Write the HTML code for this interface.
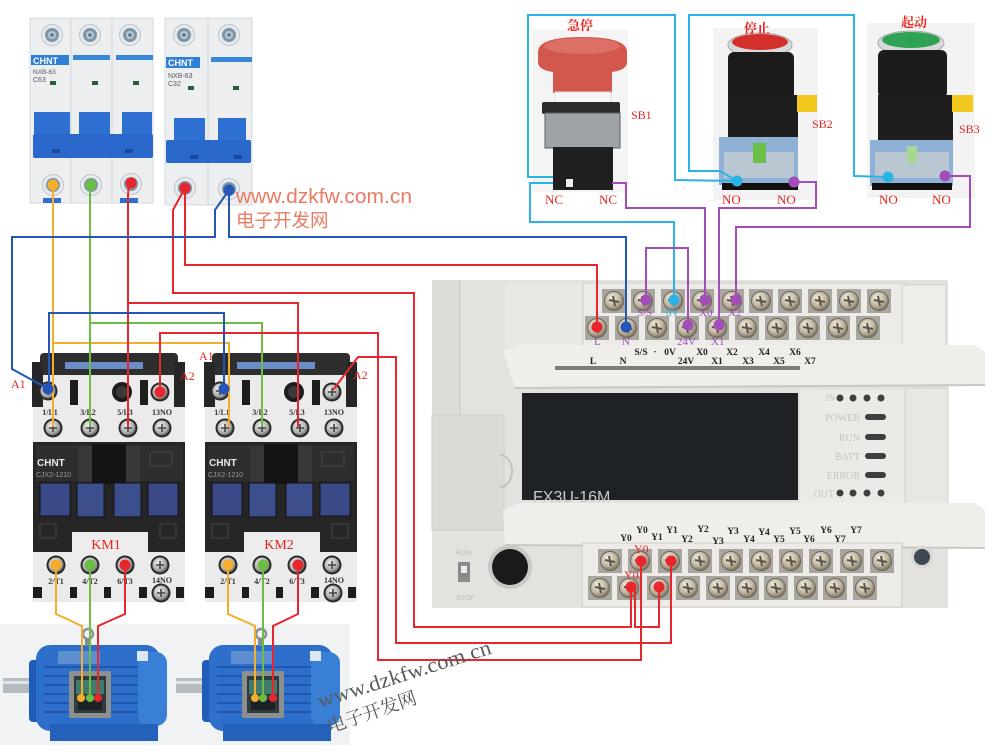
<!DOCTYPE html>
<html><head><meta charset="utf-8"><style>
html,body{margin:0;padding:0;background:#fff;}
svg{display:block}
text{font-family:"Liberation Serif","Noto Serif CJK SC",serif;}
.sans{font-family:"Liberation Sans","Noto Sans CJK SC",sans-serif;}
</style></head><body>
<svg width="995" height="756" viewBox="0 0 995 756" xmlns="http://www.w3.org/2000/svg">
<defs>
<radialGradient id="gs" cx="0.4" cy="0.35" r="0.7"><stop offset="0" stop-color="#f6f1e6"/><stop offset="0.6" stop-color="#bdb29c"/><stop offset="1" stop-color="#6e6656"/></radialGradient>
<radialGradient id="gc" cx="0.4" cy="0.35" r="0.7"><stop offset="0" stop-color="#f2f2f2"/><stop offset="0.7" stop-color="#a9a9a9"/><stop offset="1" stop-color="#555"/></radialGradient>
<g id="ps"><rect x="-12" y="-12" width="24" height="24" fill="#a8a69f"/><circle r="9.5" fill="url(#gs)" stroke="#6b6558"/><path d="M-5 -1 L5 1 M-1 -5 L1 5" stroke="#5a5346" stroke-width="2"/></g>
<g id="bs"><circle r="10.5" fill="#e6eaed" stroke="#bcc5cb"/><circle r="7" fill="#7d95a5"/><circle r="4" fill="#b7c8d3"/><circle r="1.8" fill="#5d7687"/></g>
<g id="cs"><circle r="9.5" fill="#2a2a2a"/><circle r="7.5" fill="url(#gc)"/><path d="M-4 0 L4 0 M0 -4 L0 4" stroke="#444" stroke-width="1.6"/></g>
<g id="km">
<rect x="33" y="370" width="152" height="232" fill="#ebebeb"/>
<rect x="40" y="353" width="138" height="22" rx="4" fill="#2e2e2e"/>
<rect x="65" y="362" width="78" height="7" fill="#6a8fc8"/>
<rect x="32" y="362" width="11" height="45" fill="#262626"/>
<rect x="174" y="362" width="11" height="45" fill="#262626"/>
<rect x="70" y="380" width="8" height="25" fill="#1d1d1d"/>
<rect x="140" y="380" width="8" height="25" fill="#1d1d1d"/>
<circle cx="122" cy="392" r="10" fill="#1c1c1c"/><circle cx="122" cy="392" r="6" fill="#3a3a3a"/>
<use href="#cs" x="48" y="391"/><use href="#cs" x="160" y="392"/>
<g class="sans" font-size="8" font-weight="bold" fill="#333" text-anchor="middle">
<text x="50" y="415">1/L1</text><text x="88" y="415">3/L2</text><text x="125" y="415">5/L3</text><text x="162" y="415">13NO</text>
</g>
<use href="#cs" x="53" y="428"/><use href="#cs" x="90" y="428"/><use href="#cs" x="128" y="428"/><use href="#cs" x="162" y="428"/>
<rect x="33" y="442" width="152" height="110" fill="#262626"/>
<rect x="36" y="445" width="146" height="36" fill="#2e2e2e"/>
<rect x="78" y="446" width="14" height="36" fill="#383838"/>
<rect x="126" y="446" width="14" height="36" fill="#383838"/>
<rect x="92" y="444" width="34" height="40" fill="#141414"/>
<rect x="150" y="452" width="22" height="14" fill="none" stroke="#444"/>
<text class="sans" x="37" y="466" font-size="10" font-weight="bold" fill="#e8e8e8">CHNT</text>
<text class="sans" x="36" y="477" font-size="7" fill="#9a9a9a">CJX2-1210</text>
<rect x="40" y="483" width="30" height="33" fill="#3a4a88" stroke="#111"/>
<rect x="77" y="483" width="27" height="34" fill="#3d4e8c" stroke="#111"/>
<rect x="114" y="483" width="27" height="34" fill="#3d4e8c" stroke="#111"/>
<rect x="148" y="483" width="30" height="33" fill="#3a4a88" stroke="#111"/>
<rect x="40" y="524" width="16" height="14" fill="none" stroke="#444"/>
<rect x="160" y="524" width="16" height="14" fill="none" stroke="#444"/>
<rect x="72" y="532" width="76" height="28" fill="#ededed"/>
<use href="#cs" x="56" y="565"/><use href="#cs" x="90" y="565"/><use href="#cs" x="125" y="565"/><use href="#cs" x="160" y="565"/>
<g class="sans" font-size="8" font-weight="bold" fill="#333" text-anchor="middle">
<text x="56" y="584">2/T1</text><text x="90" y="584">4/T2</text><text x="125" y="584">6/T3</text><text x="162" y="583">14NO</text>
</g>
<rect x="33" y="587" width="9" height="11" fill="#1d1d1d"/><rect x="70" y="587" width="7" height="11" fill="#1d1d1d"/>
<rect x="104" y="587" width="7" height="11" fill="#1d1d1d"/><rect x="139" y="587" width="8" height="11" fill="#1d1d1d"/>
<rect x="176" y="587" width="8" height="11" fill="#1d1d1d"/>
<use href="#cs" x="161" y="593"/>
</g>
<g id="mot">
<rect x="3" y="678" width="32" height="15" fill="#b6bbc0"/>
<rect x="3" y="681" width="32" height="3" fill="#dfe2e5"/>
<rect x="29" y="660" width="14" height="62" rx="4" fill="#1f5db8"/>
<rect x="36" y="645" width="124" height="86" rx="14" fill="#2d6fca"/>
<g stroke="#1e57ab" stroke-width="2"><line x1="44" y1="667" x2="150" y2="667"/><line x1="44" y1="676" x2="150" y2="676"/><line x1="44" y1="685" x2="150" y2="685"/><line x1="44" y1="694" x2="150" y2="694"/><line x1="44" y1="703" x2="150" y2="703"/><line x1="44" y1="712" x2="150" y2="712"/></g>
<rect x="138" y="652" width="29" height="74" rx="11" fill="#3a7fd6"/>
<rect x="50" y="724" width="108" height="17" fill="#2461ba"/>
<rect x="58" y="651" width="42" height="13" fill="#5d8ed0"/>
<rect x="137" y="651" width="11" height="10" fill="#dce6f0"/>
<circle cx="88" cy="634" r="5" fill="none" stroke="#8a9096" stroke-width="2.5"/>
<rect x="85" y="638" width="6" height="8" fill="#7e8a96"/>
<rect x="69" y="671" width="42" height="47" rx="2" fill="#8d8f8f"/>
<rect x="74" y="676" width="32" height="37" fill="#2f3b3d"/>
<rect x="76" y="680" width="28" height="14" fill="#3f7c6e"/>
<rect x="78" y="700" width="24" height="10" fill="#1b2223"/>
</g>
</defs>

<!-- ===== Breakers ===== -->
<rect x="30" y="18" width="123" height="185" fill="#eceef0" stroke="#d6dadd"/>
<line x1="71" y1="18" x2="71" y2="203" stroke="#d2d6d9"/><line x1="112" y1="18" x2="112" y2="203" stroke="#d2d6d9"/>
<use href="#bs" x="52" y="35"/><use href="#bs" x="90" y="35"/><use href="#bs" x="130" y="35"/>
<rect x="31" y="55" width="38" height="10" fill="#2f7fd6"/>
<text class="sans" x="33" y="64" font-size="9" font-weight="bold" fill="#fff">CHNT</text>
<rect x="73" y="55" width="37" height="5" fill="#3a86d8"/><rect x="116" y="55" width="37" height="5" fill="#3a86d8"/>
<text class="sans" x="33" y="74" font-size="6.5" fill="#555">NXB-63</text><text class="sans" x="33" y="82" font-size="7" fill="#555">C63</text>
<rect x="50" y="81" width="6" height="4" fill="#2b5c3e"/><rect x="92" y="81" width="6" height="4" fill="#2b5c3e"/><rect x="133" y="81" width="6" height="4" fill="#2b5c3e"/>
<rect x="34" y="112" width="36" height="24" fill="#2e6fd2"/><rect x="79" y="112" width="31" height="24" fill="#2e6fd2"/><rect x="122" y="112" width="30" height="24" fill="#2e6fd2"/>
<rect x="33" y="134" width="120" height="24" rx="2" fill="#2a68cc"/>
<rect x="52" y="149" width="8" height="4" fill="#1b4a99"/><rect x="125" y="149" width="8" height="4" fill="#1b4a99"/>
<rect x="43" y="198" width="18" height="5" fill="#2f6fd0"/><rect x="120" y="198" width="18" height="5" fill="#2f6fd0"/>
<use href="#bs" x="53" y="185"/><use href="#bs" x="91" y="185"/><use href="#bs" x="131" y="184"/>

<rect x="165" y="18" width="87" height="187" fill="#eceef0" stroke="#d6dadd"/>
<line x1="208" y1="18" x2="208" y2="205" stroke="#d2d6d9"/>
<use href="#bs" x="184" y="35"/><use href="#bs" x="229" y="35"/>
<rect x="166" y="57" width="34" height="11" fill="#2f7fd6"/>
<text class="sans" x="168" y="66" font-size="9" font-weight="bold" fill="#fff">CHNT</text>
<rect x="211" y="57" width="41" height="5" fill="#3a86d8"/>
<text class="sans" x="168" y="78" font-size="7" fill="#555">NXB-63</text><text class="sans" x="168" y="86" font-size="7" fill="#555">C32</text>
<rect x="188" y="86" width="6" height="4" fill="#2b5c3e"/><rect x="233" y="86" width="6" height="4" fill="#2b5c3e"/>
<rect x="174" y="118" width="31" height="24" fill="#2e6fd2"/><rect x="218" y="118" width="28" height="24" fill="#2e6fd2"/>
<rect x="166" y="140" width="85" height="23" rx="2" fill="#2a68cc"/>
<rect x="190" y="155" width="8" height="4" fill="#1b4a99"/><rect x="234" y="155" width="8" height="4" fill="#1b4a99"/>
<use href="#bs" x="185" y="188"/><use href="#bs" x="229" y="189"/>

<!-- watermark 1 -->
<text class="sans" x="236" y="203" font-size="20" fill="#ec7a63" textLength="176" lengthAdjust="spacingAndGlyphs">www.dzkfw.com.cn</text>
<text class="sans" x="236" y="227" font-size="18.5" fill="#ec7a63">电子开发网</text>

<!-- ===== Buttons ===== -->
<rect x="532" y="30" width="96" height="162" fill="#f4f4f4"/>
<path d="M538 52 Q538 37 582 37 Q627 37 627 52 L627 62 Q627 70 612 72 L612 93 L553 93 L553 72 Q538 70 538 62 Z" fill="#d2574d"/>
<ellipse cx="582" cy="46" rx="38" ry="8" fill="#df7a70" opacity="0.7"/>
<rect x="555" y="92" width="56" height="14" fill="#f6f6f6" stroke="#dcdcdc"/>
<rect x="542" y="102" width="78" height="12" rx="2" fill="#2a2a2a"/>
<rect x="545" y="113" width="75" height="35" fill="#9ea3a7" stroke="#5a5f63"/>
<rect x="553" y="147" width="60" height="43" fill="#1f1f1f"/>
<rect x="566" y="179" width="7" height="8" fill="#eee"/>

<rect x="713" y="28" width="105" height="172" fill="#f3f3f3"/>
<ellipse cx="760" cy="45" rx="32" ry="12" fill="#d9d9d9" stroke="#aaa"/>
<ellipse cx="760" cy="42" rx="28" ry="8" fill="#d3302c"/>
<rect x="728" y="52" width="66" height="48" rx="6" fill="#1b1b1b"/>
<rect x="728" y="95" width="70" height="42" fill="#1e1e1e"/>
<rect x="797" y="95" width="20" height="17" fill="#f2c81e"/>
<rect x="719" y="137" width="79" height="48" fill="#8fb1d6"/>
<rect x="724" y="152" width="70" height="26" fill="#b9c7d2"/>
<rect x="722" y="183" width="76" height="7" fill="#111"/>
<rect x="753" y="143" width="13" height="20" fill="#6cc04a"/>

<rect x="867" y="23" width="108" height="175" fill="#f3f3f3"/>
<ellipse cx="911" cy="43" rx="33" ry="12" fill="#d9d9d9" stroke="#aaa"/>
<ellipse cx="911" cy="40" rx="29" ry="8" fill="#2fa354"/>
<rect x="878" y="50" width="69" height="48" rx="6" fill="#1b1b1b"/>
<rect x="878" y="95" width="75" height="45" fill="#1e1e1e"/>
<rect x="952" y="95" width="21" height="17" fill="#f2c81e"/>
<rect x="870" y="140" width="83" height="46" fill="#8fb1d6"/>
<rect x="875" y="152" width="74" height="26" fill="#b9c7d2"/>
<rect x="872" y="183" width="80" height="7" fill="#111"/>
<rect x="907" y="146" width="10" height="17" fill="#a8d890"/>

<g fill="#e8241f" font-weight="bold" font-size="13" text-anchor="middle">
<text x="580" y="30">急停</text><text x="757" y="33">停止</text><text x="914" y="27">起动</text>
</g>
<g fill="#e8241f" font-size="13">
<text x="545" y="204">NC</text><text x="599" y="204">NC</text>
<text x="722" y="204">NO</text><text x="777" y="204">NO</text>
<text x="879" y="204">NO</text><text x="932" y="204">NO</text>
<text x="631" y="119" font-size="12">SB1</text><text x="812" y="128" font-size="12">SB2</text><text x="959" y="133" font-size="12">SB3</text>
</g>

<!-- ===== PLC ===== -->
<rect x="432" y="280" width="516" height="328" fill="#e3e2de"/>
<rect x="432" y="280" width="28" height="140" fill="#dcdbd6"/>
<line x1="460" y1="280" x2="460" y2="420" stroke="#cac8c3"/>
<rect x="505" y="283" width="80" height="64" fill="#e9e8e4"/>
<rect x="583" y="283" width="322" height="67" fill="#ecebe8" stroke="#cfcdc8"/>
<rect x="902" y="285" width="44" height="64" fill="#eeede9" stroke="#d2d0cb"/>
<use href="#ps" x="614" y="301"/><use href="#ps" x="643" y="301"/><use href="#ps" x="673" y="301"/><use href="#ps" x="702" y="301"/><use href="#ps" x="732" y="301"/>
<use href="#ps" x="761" y="301"/><use href="#ps" x="790" y="301"/><use href="#ps" x="820" y="301"/><use href="#ps" x="849" y="301"/><use href="#ps" x="879" y="301"/>
<use href="#ps" x="597" y="328"/><use href="#ps" x="627" y="328"/><use href="#ps" x="657" y="328"/><use href="#ps" x="687" y="328"/><use href="#ps" x="717" y="328"/>
<use href="#ps" x="747" y="328"/><use href="#ps" x="777" y="328"/><use href="#ps" x="808" y="328"/><use href="#ps" x="838" y="328"/><use href="#ps" x="868" y="328"/>
<path d="M503 350 L520 345 L975 345 L985 352 L985 385 L515 388 Z" fill="#efeeea"/>
<line x1="515" y1="388" x2="985" y2="385" stroke="#c9c7c2" stroke-width="2"/>
<rect x="555" y="366" width="245" height="4" fill="#7e7d79"/>
<g font-size="9.5" font-weight="bold" fill="#222" text-anchor="middle">
<text x="641" y="355">S/S</text><text x="655" y="355">·</text><text x="670" y="355">0V</text><text x="702" y="355">X0</text><text x="732" y="355">X2</text><text x="764" y="355">X4</text><text x="795" y="355">X6</text>
<text x="593" y="364">L</text><text x="623" y="364">N</text><text x="686" y="364">24V</text><text x="717" y="364">X1</text><text x="748" y="364">X3</text><text x="779" y="364">X5</text><text x="810" y="364">X7</text>
</g>
<rect x="432" y="415" width="72" height="115" fill="#dbdad5" stroke="#cfcdc8"/>
<path d="M500 455 A12 16 0 0 1 500 487" fill="none" stroke="#c4c2bd" stroke-width="2"/>
<rect x="522" y="393" width="276" height="107" fill="#1e2224"/>
<text class="sans" x="533" y="502" font-size="16" fill="#c8c8c8">FX3U-16M</text>
<rect x="800" y="390" width="105" height="113" fill="#ebeae6"/>
<rect x="905" y="388" width="43" height="117" fill="#e8e7e3" stroke="#d2d0cb"/>
<g fill="#3f3f3f"><circle cx="840" cy="398" r="3.5"/><circle cx="853" cy="398" r="3.5"/><circle cx="867" cy="398" r="3.5"/><circle cx="881" cy="398" r="3.5"/>
<circle cx="840" cy="493" r="3.5"/><circle cx="853" cy="493" r="3.5"/><circle cx="867" cy="493" r="3.5"/><circle cx="881" cy="493" r="3.5"/>
<rect x="865" y="414" width="21" height="6" rx="3"/><rect x="865" y="434" width="21" height="6" rx="3"/><rect x="865" y="453" width="21" height="6" rx="3"/><rect x="865" y="472" width="21" height="6" rx="3"/></g>
<g class="sans" font-size="10" fill="#c4c4c4" text-anchor="end">
<text x="835" y="401" font-size="9">IN</text><text x="860" y="421">POWER</text><text x="860" y="441">RUN</text><text x="860" y="460">BATT</text><text x="860" y="479">ERROR</text><text x="834" y="497">OUT</text>
</g>
<path d="M503 510 L520 503 L975 503 L985 510 L985 548 L505 545 Z" fill="#efeeea"/>
<line x1="505" y1="545" x2="985" y2="548" stroke="#cac8c3" stroke-width="2"/>
<text class="sans" x="456" y="555" font-size="7" fill="#bbb">RUN</text>
<rect x="458" y="562" width="12" height="20" fill="#8a8a8a"/><rect x="461" y="566" width="6" height="7" fill="#eee"/>
<text class="sans" x="456" y="600" font-size="7" fill="#bbb">STOP</text>
<circle cx="510" cy="567" r="22" fill="#c9c8c4"/><circle cx="510" cy="567" r="18" fill="#1a1a1a"/>
<circle cx="922" cy="557" r="11" fill="#d6d5d1"/><circle cx="922" cy="557" r="8" fill="#3d4853"/>
<rect x="582" y="543" width="320" height="64" fill="#ecebe8" stroke="#cfcdc8"/>
<use href="#ps" x="610" y="561"/><use href="#ps" x="640" y="561"/><use href="#ps" x="670" y="561"/><use href="#ps" x="700" y="561"/><use href="#ps" x="731" y="561"/>
<use href="#ps" x="761" y="561"/><use href="#ps" x="791" y="561"/><use href="#ps" x="821" y="561"/><use href="#ps" x="852" y="561"/><use href="#ps" x="882" y="561"/>
<use href="#ps" x="600" y="588"/><use href="#ps" x="629" y="588"/><use href="#ps" x="659" y="588"/><use href="#ps" x="688" y="588"/><use href="#ps" x="718" y="588"/>
<use href="#ps" x="747" y="588"/><use href="#ps" x="776" y="588"/><use href="#ps" x="806" y="588"/><use href="#ps" x="835" y="588"/><use href="#ps" x="865" y="588"/>
<g font-size="9.5" font-weight="bold" fill="#222" text-anchor="middle">
<text x="642" y="533">Y0</text><text x="672" y="533">Y1</text><text x="703" y="532">Y2</text><text x="733" y="534">Y3</text><text x="764" y="535">Y4</text><text x="795" y="534">Y5</text><text x="826" y="533">Y6</text><text x="856" y="533">Y7</text>
<text x="626" y="541">Y0</text><text x="657" y="540">Y1</text><text x="687" y="542">Y2</text><text x="718" y="544">Y3</text><text x="749" y="542">Y4</text><text x="779" y="542">Y5</text><text x="809" y="542">Y6</text><text x="840" y="542">Y7</text>
</g>

<!-- ===== Contactors ===== -->
<use href="#km"/>
<use href="#km" x="172"/>
<g fill="#e8241f" font-size="14" text-anchor="middle"><text x="106" y="549">KM1</text><text x="279" y="549">KM2</text></g>
<g fill="#e8241f" font-size="12"><text x="11" y="388">A1</text><text x="180" y="380">A2</text><text x="199" y="360">A1</text><text x="353" y="379">A2</text></g>

<!-- ===== Motors ===== -->
<rect x="0" y="624" width="350" height="121" fill="#f0f2f4"/>
<use href="#mot"/>
<use href="#mot" x="173"/>

<!-- ===== Wires ===== -->
<g fill="none" stroke-width="2" stroke-linejoin="miter">
<g stroke="#f5ad2c">
<polyline points="53,185 53,427"/><polyline points="53,343 229,343 229,427"/>
<polyline points="56,565 56,614 82,626 82,698"/><polyline points="228,565 228,614 255,626 255,698"/>
</g>
<g stroke="#6cbd45">
<polyline points="90,185 90,427"/><polyline points="90,323 262,323 262,427"/>
<polyline points="90,565 90,698"/><polyline points="263,565 263,698"/>
</g>
<g stroke="#e8262d">
<polyline points="129,183 128,195 128,427"/><polyline points="128,303 298,303 298,427"/>
<polyline points="125,565 125,614 98,626 98,698"/><polyline points="298,565 298,614 273,626 273,698"/>
<polyline points="185,188 185,265 597,265 597,327"/>
<polyline points="185,188 173,210 173,293 414,293 414,627 631,627 631,587"/>
<polyline points="635,590 635,627 659,627 659,587"/>
<polyline points="160,392 160,333 378,333 378,660 641,660 641,561"/>
<polyline points="333,390 358,357 396,357 396,643 671,643 671,561"/>
</g>
<g stroke="#2456b8">
<polyline points="229,190 215,210 215,237 12,237 12,369 45,387"/>
<polyline points="229,190 229,237 626,237 626,327"/>
<polyline points="49,388 49,313 224,313 224,388"/>
</g>
<g stroke="#2bb2e6">
<polyline points="553,177 528,177 528,15 675,15 675,180 737,181"/>
<polyline points="553,183 530,183 530,222 674,222 674,300"/>
<polyline points="737,181 720,171 689,171 689,15 854,15 854,176 888,177"/>
</g>
<g stroke="#a24db8">
<polyline points="612,183 626,183 626,208 705,208 705,300"/>
<polyline points="794,182 816,182 816,208 719,208 719,325"/>
<polyline points="945,176 970,176 970,227 736,227 736,300"/>
<polyline points="646,300 646,248 688,248 688,325"/>
</g>
</g>

<!-- dots -->
<g>
<circle cx="53" cy="185" r="5.5" fill="#f5ad2c"/><circle cx="91" cy="185" r="5.5" fill="#6cbd45"/><circle cx="131" cy="183" r="5.5" fill="#e8262d"/>
<circle cx="185" cy="188" r="5.5" fill="#e8262d"/><circle cx="229" cy="190" r="5.5" fill="#2456b8"/>
<circle cx="48" cy="389" r="5.5" fill="#2456b8"/><circle cx="160" cy="392" r="5.5" fill="#e8262d"/><circle cx="224" cy="389" r="5.5" fill="#2456b8"/>
<circle cx="56" cy="565" r="5.5" fill="#f5ad2c"/><circle cx="90" cy="565" r="5.5" fill="#6cbd45"/><circle cx="125" cy="565" r="5.5" fill="#e8262d"/>
<circle cx="228" cy="565" r="5.5" fill="#f5ad2c"/><circle cx="263" cy="565" r="5.5" fill="#6cbd45"/><circle cx="298" cy="565" r="5.5" fill="#e8262d"/>
<circle cx="81" cy="698" r="4" fill="#f5ad2c"/><circle cx="90" cy="698" r="4" fill="#6cbd45"/><circle cx="98" cy="698" r="4" fill="#e8262d"/>
<circle cx="255" cy="698" r="4" fill="#f5ad2c"/><circle cx="263" cy="698" r="4" fill="#6cbd45"/><circle cx="273" cy="698" r="4" fill="#e8262d"/>
<circle cx="737" cy="181" r="5.5" fill="#2bb2e6"/><circle cx="888" cy="177" r="5.5" fill="#2bb2e6"/>
<circle cx="794" cy="182" r="5.5" fill="#a24db8"/><circle cx="945" cy="176" r="5.5" fill="#a24db8"/>
<circle cx="597" cy="327" r="5.5" fill="#e8262d"/><circle cx="626" cy="327" r="5.5" fill="#2456b8"/>
<circle cx="646" cy="300" r="5.5" fill="#a24db8"/><circle cx="674" cy="300" r="5.5" fill="#2bb2e6"/><circle cx="705" cy="300" r="5.5" fill="#a24db8"/><circle cx="736" cy="300" r="5.5" fill="#a24db8"/>
<circle cx="688" cy="325" r="5.5" fill="#a24db8"/><circle cx="719" cy="325" r="5.5" fill="#a24db8"/>
<circle cx="641" cy="561" r="5.5" fill="#e8262d"/><circle cx="671" cy="561" r="5.5" fill="#e8262d"/>
<circle cx="631" cy="587" r="5.5" fill="#e8262d"/><circle cx="659" cy="587" r="5.5" fill="#e8262d"/>
</g>
<g font-size="11">
<text x="637" y="316" fill="#a24db8">S/S</text><text x="666" y="316" fill="#2bb2e6">0V</text><text x="699" y="316" fill="#a24db8">X0</text><text x="728" y="316" fill="#a24db8">X2</text>
<text x="594" y="345" fill="#a24db8">L</text><text x="622" y="345" fill="#a24db8">N</text><text x="677" y="345" fill="#a24db8">24V</text><text x="711" y="345" fill="#a24db8">X1</text>
<text x="634" y="553" fill="#e8262d" font-size="12">Y0</text><text x="624" y="579" fill="#e8262d" font-size="12">Y0</text>
</g>

<!-- watermark 2 -->
<g class="sans" fill="#5a5a5a" transform="rotate(-17.6 320 708)">
<text x="320" y="708" font-size="21" textLength="181" lengthAdjust="spacingAndGlyphs">www.dzkfw.com.cn</text>
</g>
<g class="sans" fill="#5a5a5a" transform="rotate(-18.8 330 733)">
<text x="330" y="733" font-size="18.5" textLength="93" lengthAdjust="spacingAndGlyphs">电子开发网</text>
</g>
</svg>
</body></html>
